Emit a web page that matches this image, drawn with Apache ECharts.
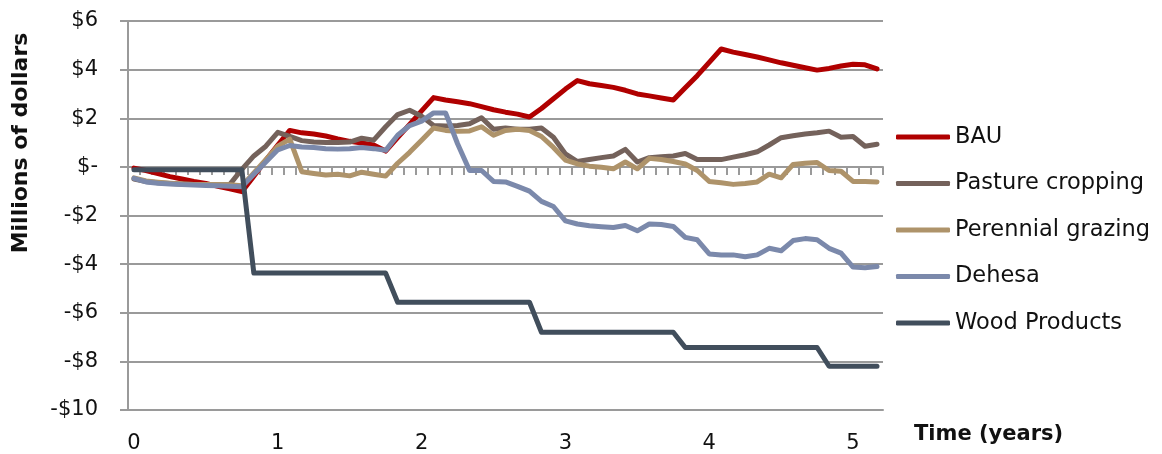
<!DOCTYPE html>
<html>
<head>
<meta charset="utf-8">
<script src="https://cdn.jsdelivr.net/npm/echarts@6/dist/echarts.min.js"></script>
<style>html,body{margin:0;padding:0;background:#fff;}#c{width:1162px;height:454px;}</style>
</head>
<body>
<div id="c"></div>
<script>
// Monthly steps from year 0 to ~5.17 (63 points)
const months = Array.from({length: 63}, (_, i) => i);
const xTickLabels = ['0', '1', '2', '3', '4', '5'];
const yTicks = [-10, -8, -6, -4, -2, 0, 2, 4, 6];
const seriesNames = ['BAU', 'Pasture cropping', 'Perennial grazing', 'Dehesa', 'Wood Products'];

const bau = [-0.05,-0.15,-0.28,-0.4,-0.5,-0.6,-0.68,-0.8,-0.9,-1.02,
  -0.38,0.27,0.9,1.5,1.4,1.35,1.27,1.15,1.05,0.98,
  0.9,0.65,1.2,1.75,2.3,2.85,2.75,2.68,2.6,2.48,
  2.35,2.25,2.17,2.05,2.4,2.8,3.2,3.55,3.42,3.35,
  3.27,3.15,3.0,2.92,2.83,2.75,3.25,3.75,4.3,4.85,
  4.72,4.62,4.52,4.4,4.28,4.18,4.08,3.98,4.05,4.15,
  4.22,4.2,4.03];
const pasture = [-0.5,-0.6,-0.65,-0.68,-0.7,-0.72,-0.73,-0.75,-0.72,-0.1,
  0.45,0.85,1.42,1.25,1.08,1.02,1.0,1.0,1.02,1.18,
  1.1,1.65,2.15,2.33,2.08,1.7,1.68,1.7,1.77,2.02,
  1.55,1.6,1.55,1.55,1.6,1.22,0.53,0.22,0.3,0.38,
  0.45,0.72,0.2,0.38,0.42,0.45,0.55,0.3,0.3,0.3,
  0.4,0.5,0.62,0.9,1.2,1.28,1.35,1.4,1.47,1.22,
  1.25,0.85,0.93];
const perennial = [-0.45,-0.58,-0.63,-0.67,-0.7,-0.72,-0.73,-0.72,-0.74,-0.78,
  -0.25,0.3,0.85,1.14,-0.2,-0.27,-0.33,-0.3,-0.37,-0.22,
  -0.3,-0.38,0.15,0.6,1.1,1.6,1.5,1.47,1.48,1.65,
  1.3,1.5,1.55,1.5,1.25,0.8,0.28,0.12,0.03,-0.02,
  -0.08,0.2,-0.08,0.35,0.3,0.22,0.12,-0.15,-0.6,-0.65,
  -0.72,-0.68,-0.62,-0.3,-0.45,0.1,0.15,0.18,-0.15,-0.18,
  -0.6,-0.6,-0.62];
const dehesa = [-0.47,-0.62,-0.67,-0.7,-0.73,-0.75,-0.77,-0.78,-0.8,-0.82,
  -0.3,0.2,0.7,0.88,0.82,0.8,0.75,0.73,0.75,0.8,
  0.75,0.68,1.3,1.7,1.88,2.22,2.22,0.95,-0.15,-0.15,
  -0.6,-0.62,-0.8,-1.0,-1.42,-1.63,-2.22,-2.35,-2.42,-2.46,
  -2.49,-2.41,-2.63,-2.35,-2.37,-2.45,-2.9,-3.0,-3.58,-3.62,
  -3.62,-3.7,-3.62,-3.35,-3.45,-3.03,-2.95,-3.0,-3.35,-3.55,
  -4.12,-4.15,-4.1];
const wood = [-0.12,-0.12,-0.12,-0.12,-0.12,-0.12,-0.12,-0.12,-0.12,-0.12,
  -4.37,-4.37,-4.37,-4.37,-4.37,-4.37,-4.37,-4.37,-4.37,-4.37,
  -4.37,-4.37,-5.57,-5.57,-5.57,-5.57,-5.57,-5.57,-5.57,-5.57,
  -5.57,-5.57,-5.57,-5.57,-6.8,-6.8,-6.8,-6.8,-6.8,-6.8,
  -6.8,-6.8,-6.8,-6.8,-6.8,-6.8,-7.43,-7.43,-7.43,-7.43,
  -7.43,-7.43,-7.43,-7.43,-7.43,-7.43,-7.43,-7.43,-8.2,-8.2,
  -8.2,-8.2,-8.2];

const colors = ['#B00000', '#74625B', '#AE936A', '#7B89AB', '#414E5C'];
const values = [bau, pasture, perennial, dehesa, wood];
const FONT = 'DejaVu Sans';
const GRID = '#9a9a9a';

const chart = echarts.init(document.getElementById('c'), null, {renderer: 'canvas'});
chart.setOption({
  animation: false,
  backgroundColor: '#fff',
  grid: {left: 128, right: 279, top: 21, bottom: 41, containLabel: false},
  xAxis: [{
    type: 'category', data: months, boundaryGap: true, position: 'bottom',
    axisLine: {show: true, onZero: true, lineStyle: {color: GRID, width: 2}},
    axisTick: {show: true, interval: 0, length: 8, lineStyle: {color: GRID, width: 2}},
    axisLabel: {show: false}, splitLine: {show: false}
  }, {
    type: 'category', data: months, boundaryGap: true, position: 'bottom',
    axisLine: {show: true, onZero: false, lineStyle: {color: GRID, width: 2}},
    axisTick: {show: false},
    axisLabel: {
      show: true, interval: (idx) => idx % 12 === 0, margin: 23,
      color: '#111', fontFamily: FONT, fontSize: 21,
      formatter: (v, idx) => xTickLabels[idx / 12] !== undefined ? xTickLabels[idx / 12] : ''
    },
    splitLine: {show: false}
  }],
  yAxis: {
    type: 'value', min: yTicks[0], max: yTicks[yTicks.length - 1], interval: 2,
    axisLine: {show: true, lineStyle: {color: GRID, width: 2}},
    axisTick: {show: true, length: 8, lineStyle: {color: GRID, width: 2}},
    splitLine: {show: true, lineStyle: {color: GRID, width: 2}},
    axisLabel: {
      margin: 30, color: '#111', fontFamily: FONT, fontSize: 21,
      formatter: (v) => v === 0 ? '$-' : (v < 0 ? '-$' + (-v) : '$' + v)
    }
  },
  legend: {
    orient: 'vertical', left: 891, top: 119, itemWidth: 54, itemHeight: 5, itemGap: 20.5,
    icon: 'roundRect',
    data: seriesNames,
    textStyle: {color: '#111', fontFamily: FONT, fontSize: 22.5, lineHeight: 26, padding: [0, 0, 0, 0]}
  },
  graphic: [
    {type: 'text', x: 21, y: 143, rotation: Math.PI / 2,
     style: {text: 'Millions of dollars', fill: '#111', font: 'bold 22px "DejaVu Sans"', textAlign: 'center', textVerticalAlign: 'middle'}},
    {type: 'text', x: 914, y: 435,
     style: {text: 'Time (years)', fill: '#111', font: 'bold 21px "DejaVu Sans"', textAlign: 'left', textVerticalAlign: 'middle'}}
  ],
  series: seriesNames.map((name, k) => ({
    name: name, type: 'line', data: values[k], symbol: 'none', showSymbol: false, xAxisIndex: 0,
    lineStyle: {color: colors[k], width: 5, cap: 'round', join: 'round'},
    itemStyle: {color: colors[k]}
  }))
});
</script>
</body>
</html>
